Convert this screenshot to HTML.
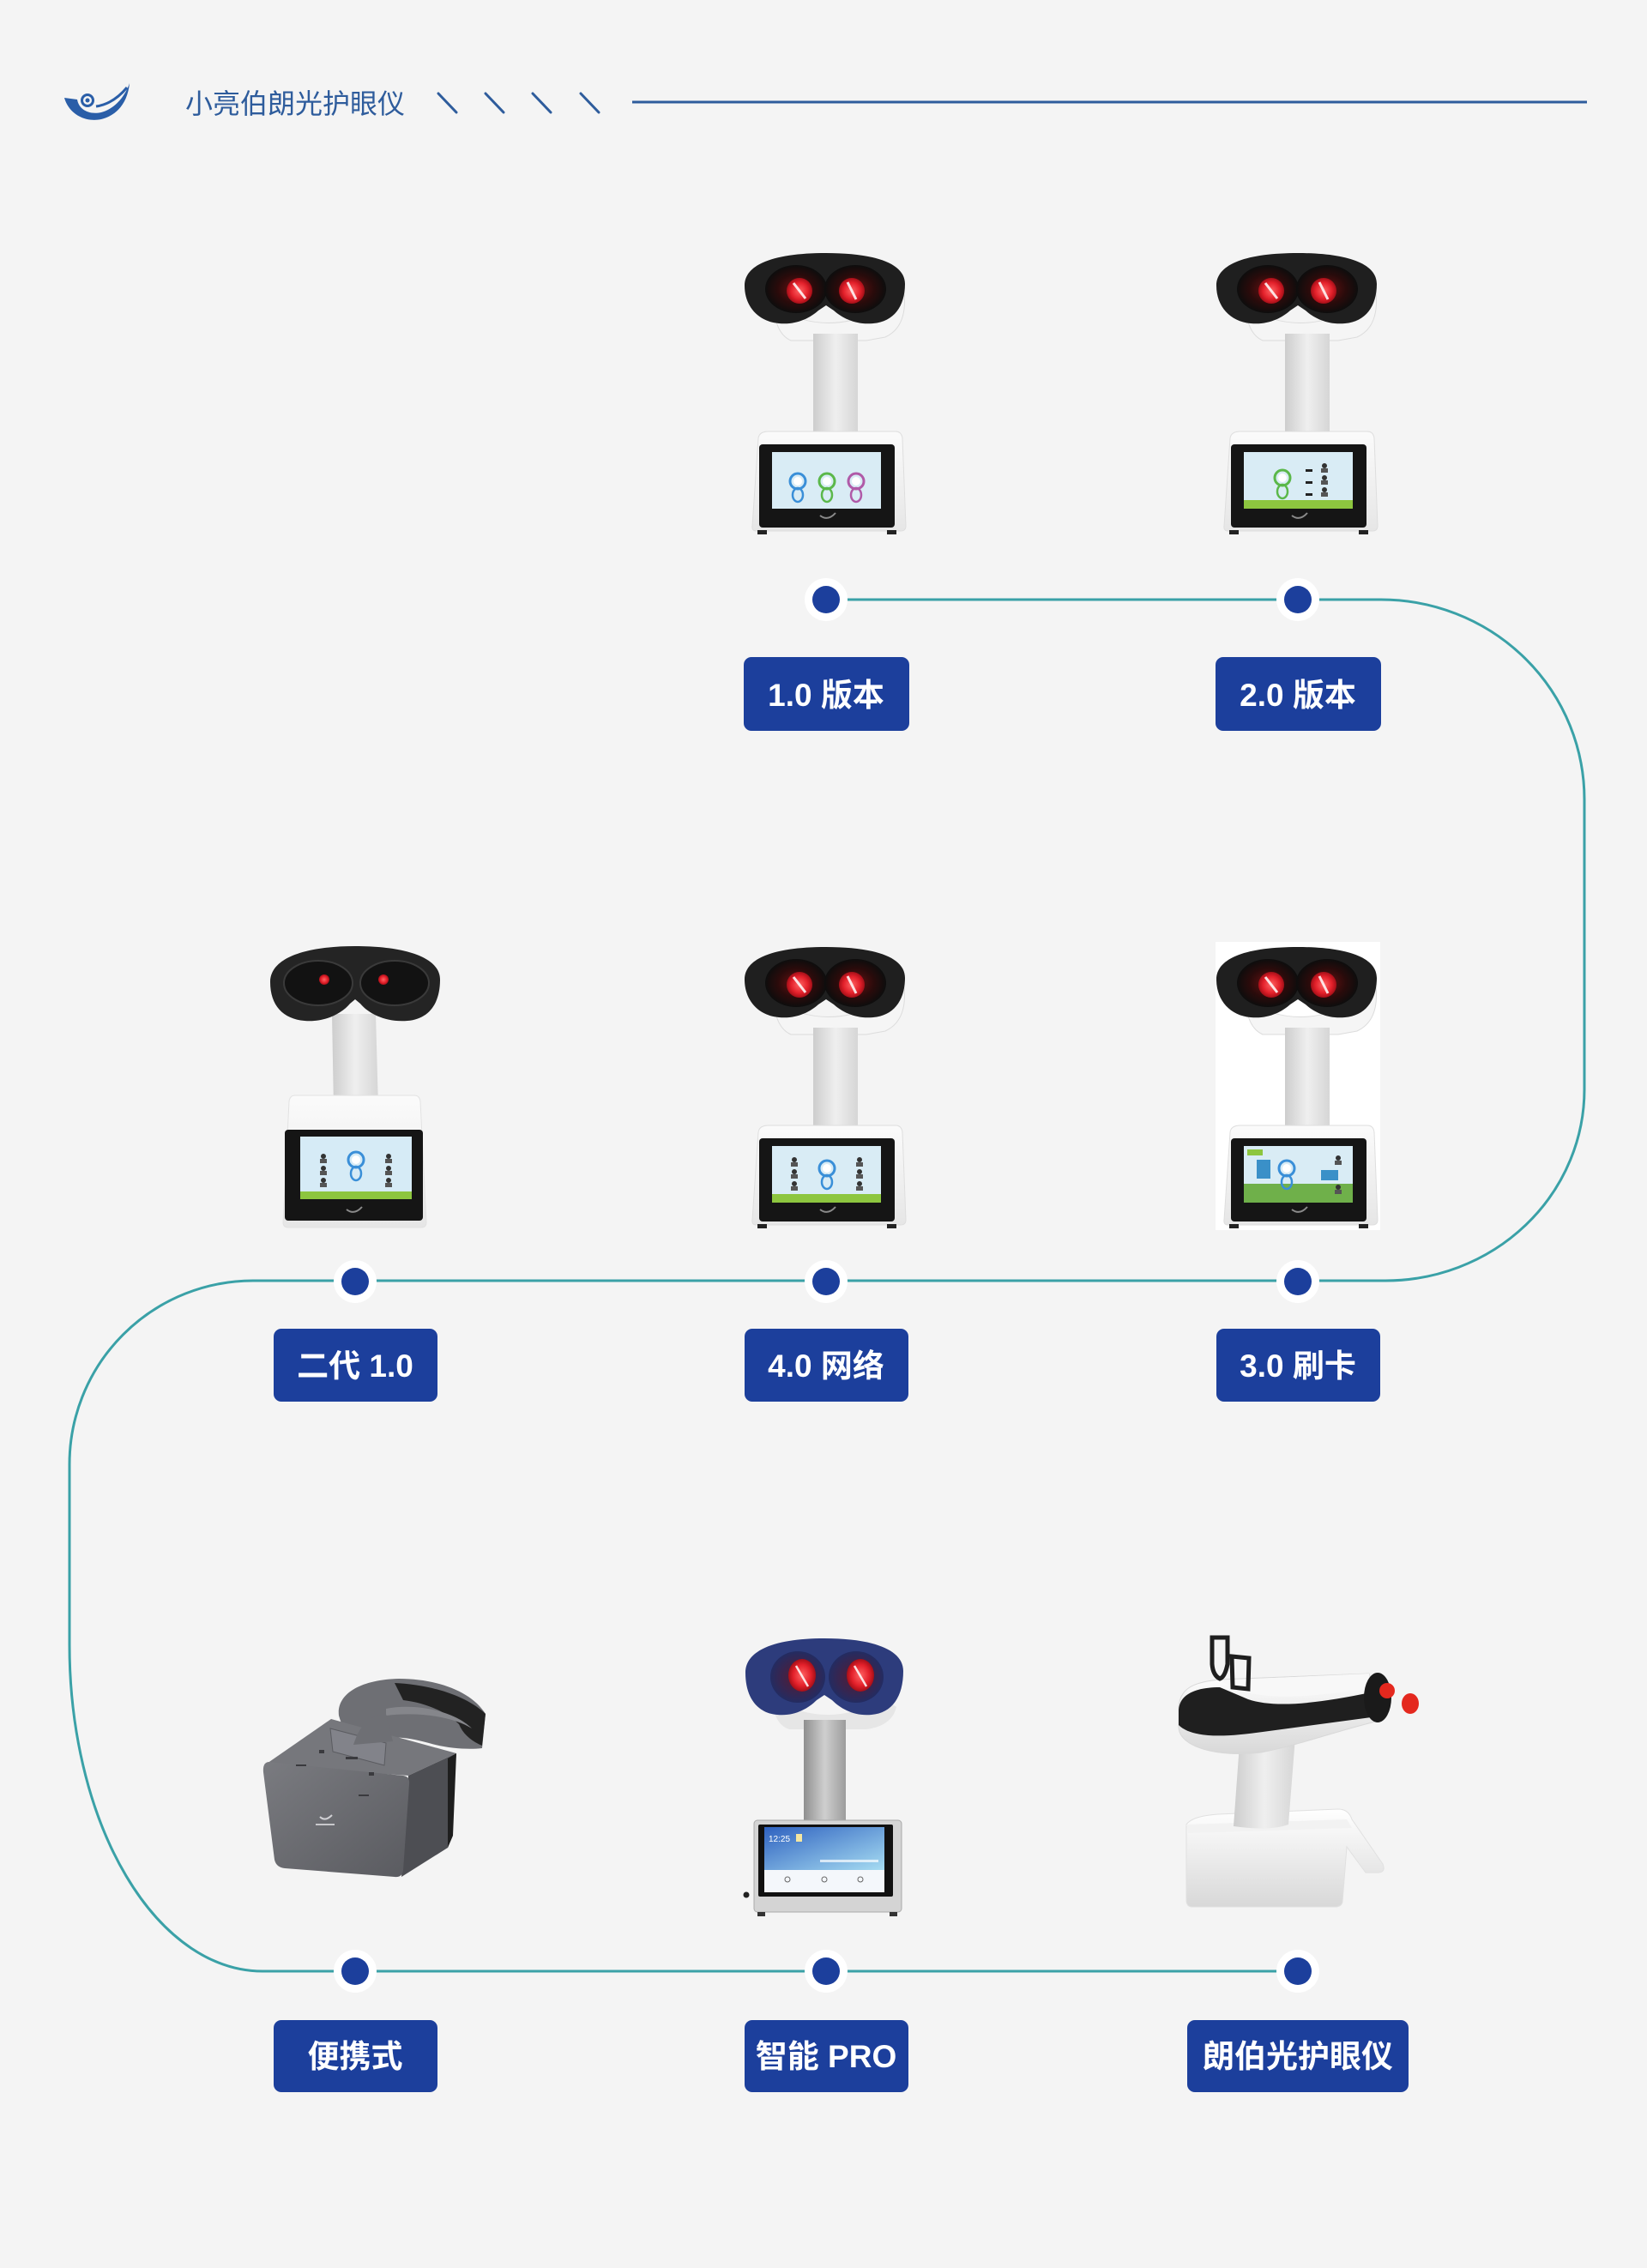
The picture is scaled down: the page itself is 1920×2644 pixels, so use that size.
<!DOCTYPE html>
<html><head><meta charset="utf-8">
<style>
html,body{margin:0;padding:0;background:#f4f4f4;}
body{width:1920px;height:2644px;overflow:hidden;}
svg{display:block;}
</style></head>
<body>
<svg width="1920" height="2644" viewBox="0 0 1920 2644" xmlns="http://www.w3.org/2000/svg">
<defs>
<linearGradient id="stemG" x1="0" x2="1" y1="0" y2="0"><stop offset="0" stop-color="#cdcdcd"/><stop offset=".5" stop-color="#efefef"/><stop offset="1" stop-color="#d6d6d6"/></linearGradient>
<linearGradient id="stemG2" x1="0" x2="1" y1="0" y2="0"><stop offset="0" stop-color="#8f8f8f"/><stop offset=".5" stop-color="#cfcfcf"/><stop offset="1" stop-color="#9c9c9c"/></linearGradient>
<linearGradient id="baseG" x1="0" y1="0" x2="0" y2="1"><stop offset="0" stop-color="#fbfbfb"/><stop offset="1" stop-color="#e6e6e6"/></linearGradient>
<radialGradient id="redG"><stop offset="0" stop-color="#ff6464"/><stop offset=".65" stop-color="#e3202a"/><stop offset="1" stop-color="#a50f18"/></radialGradient>
<radialGradient id="cupG"><stop offset="0" stop-color="#6a1212"/><stop offset=".6" stop-color="#2a0b0b"/><stop offset="1" stop-color="#0d0d0d"/></radialGradient>
<radialGradient id="cupB"><stop offset="0" stop-color="#5a1a30"/><stop offset="1" stop-color="#232c62"/></radialGradient>
<linearGradient id="proScr" x1="0" y1="0" x2="1" y2="1"><stop offset="0" stop-color="#2f62c0"/><stop offset="1" stop-color="#a6dcf2"/></linearGradient>
<linearGradient id="vrFront" x1="0" y1="0" x2="1" y2="1"><stop offset="0" stop-color="#7a7b80"/><stop offset="1" stop-color="#5a5b60"/></linearGradient>
<linearGradient id="lbBody" x1="0" y1="0" x2="0" y2="1"><stop offset="0" stop-color="#ffffff"/><stop offset="1" stop-color="#d8d8d8"/></linearGradient>

<g id="desk">
  <path d="M42,72 Q105,112 178,70 L194,56 Q198,96 172,108 L150,112 L62,112 Q44,104 42,72Z" fill="#f5f5f5" stroke="#dcdcdc" stroke-width="1"/>
  <rect x="88" y="104" width="52" height="118" fill="url(#stemG)"/>
  <path d="M36,218 L184,218 Q191,218 192,226 L196,328 Q196,334 190,334 L22,334 Q16,334 17,328 L24,226 Q25,218 36,218Z" fill="url(#baseG)" stroke="#dedede"/>
  <rect x="25" y="233" width="158" height="97" rx="4" fill="#151515"/>
  <rect x="40" y="242" width="127" height="66" fill="#d9ecf5"/>
  <path d="M96,316 q9,7 18,-3" stroke="#8a8a8a" stroke-width="2" fill="none"/>
  <rect x="23" y="333" width="11" height="5" fill="#222"/>
  <rect x="174" y="333" width="11" height="5" fill="#222"/>
  <path d="M8,48 C8,22 45,10 103,10 C160,10 195,22 195,46 C195,72 182,90 158,92 C138,94 122,86 112,77 L103,71 L94,77 C84,86 68,94 48,92 C24,90 8,72 8,48Z" fill="#1f1f1f"/>
  <ellipse cx="68" cy="52" rx="36" ry="28" fill="url(#cupG)"/>
  <ellipse cx="137" cy="52" rx="36" ry="28" fill="url(#cupG)"/>
  <circle cx="72" cy="54" r="15" fill="url(#redG)"/>
  <circle cx="133" cy="54" r="15" fill="url(#redG)"/>
  <line x1="65" y1="45" x2="79" y2="63" stroke="#fff" stroke-width="3" opacity=".85"/>
  <line x1="128" y1="44" x2="138" y2="64" stroke="#fff" stroke-width="3" opacity=".85"/>
</g>

<g id="fig">
  <circle cx="0" cy="0" r="9" fill="none" stroke="currentColor" stroke-width="3"/>
  <circle cx="0" cy="0" r="5" fill="#fff"/>
  <ellipse cx="0" cy="16" rx="6" ry="8" fill="none" stroke="currentColor" stroke-width="2.5"/>
</g>
<g id="mini">
  <circle cx="0" cy="0" r="3" fill="#333"/>
  <rect x="-4" y="3" width="8" height="5" fill="#555"/>
</g>
</defs>

<!-- Header -->
<g>
  <path d="M75,114 L90,116 C92,128 104,134 118,131 C133,127 145,114 151,97 C149,118 138,134 118,139 C98,143 80,132 75,114Z" fill="#2a5ea8"/>
  <circle cx="102" cy="117" r="6.5" fill="none" stroke="#2a5ea8" stroke-width="3"/>
  <circle cx="102" cy="117" r="2.5" fill="#2a5ea8"/>
  <path d="M112,124 C126,122 138,114 148,102" stroke="#2a5ea8" stroke-width="3" fill="none"/>
  <text x="216" y="132" font-family="Liberation Sans, 'Noto Sans CJK SC', sans-serif" font-size="32" fill="#2e5c9c">小亮伯朗光护眼仪</text>
  <g stroke="#2e5c9c" stroke-width="3" stroke-linecap="round">
    <line x1="511" y1="109" x2="532" y2="131"/>
    <line x1="566" y1="109" x2="587" y2="131"/>
    <line x1="621" y1="109" x2="642" y2="131"/>
    <line x1="677" y1="109" x2="698" y2="131"/>
  </g>
  <line x1="737" y1="119" x2="1850" y2="119" stroke="#2e5c9c" stroke-width="3"/>
</g>

<!-- Timeline path -->
<path d="M963,699 H1610 A237,233 0 0 1 1847,932 V1270 A232,223 0 0 1 1615,1493 H295 A214,214 0 0 0 81,1707 V1918 A225,380 0 0 0 306,2298 H1513"
  fill="none" stroke="#3aa1a7" stroke-width="3"/>

<!-- Dots -->
<g fill="#fff">
  <circle cx="963" cy="699" r="25"/><circle cx="1513" cy="699" r="25"/>
  <circle cx="414" cy="1494" r="25"/><circle cx="963" cy="1494" r="25"/><circle cx="1513" cy="1494" r="25"/>
  <circle cx="414" cy="2298" r="25"/><circle cx="963" cy="2298" r="25"/><circle cx="1513" cy="2298" r="25"/>
</g>
<g fill="#1c3f9c">
  <circle cx="963" cy="699" r="16"/><circle cx="1513" cy="699" r="16"/>
  <circle cx="414" cy="1494" r="16"/><circle cx="963" cy="1494" r="16"/><circle cx="1513" cy="1494" r="16"/>
  <circle cx="414" cy="2298" r="16"/><circle cx="963" cy="2298" r="16"/><circle cx="1513" cy="2298" r="16"/>
</g>

<!-- Labels -->
<g fill="#1c3f9c">
  <rect x="867" y="766" width="193" height="86" rx="9"/>
  <rect x="1417" y="766" width="193" height="86" rx="9"/>
  <rect x="319" y="1549" width="191" height="85" rx="9"/>
  <rect x="868" y="1549" width="191" height="85" rx="9"/>
  <rect x="1418" y="1549" width="191" height="85" rx="9"/>
  <rect x="319" y="2355" width="191" height="84" rx="9"/>
  <rect x="868" y="2355" width="191" height="84" rx="9"/>
  <rect x="1384" y="2355" width="258" height="84" rx="9"/>
</g>
<g font-family="Liberation Sans, 'Noto Sans CJK SC', sans-serif" font-weight="700" font-size="37" fill="#fff" text-anchor="middle">
  <text x="963" y="823">1.0 版本</text>
  <text x="1513" y="823">2.0 版本</text>
  <text x="414" y="1605">二代 1.0</text>
  <text x="963" y="1605">4.0 网络</text>
  <text x="1513" y="1605">3.0 刷卡</text>
  <text x="414" y="2410">便携式</text>
  <text x="963" y="2410">智能 PRO</text>
  <text x="1513" y="2410">朗伯光护眼仪</text>
</g>

<!-- Row 1: 1.0 -->
<g transform="translate(860,285)">
  <use href="#desk"/>
  <use href="#fig" x="70" y="276" style="color:#3a8fd8"/>
  <use href="#fig" x="104" y="276" style="color:#5bb84a"/>
  <use href="#fig" x="138" y="276" style="color:#b05aa8"/>
</g>
<!-- Row 1: 2.0 -->
<g transform="translate(1410,285)">
  <use href="#desk"/>
  <rect x="40" y="298" width="127" height="10" fill="#8dc63f"/>
  <use href="#fig" x="85" y="272" style="color:#5bb84a"/>
  <rect x="112" y="262" width="8" height="3" fill="#222"/><rect x="112" y="276" width="8" height="3" fill="#222"/><rect x="112" y="290" width="8" height="3" fill="#222"/>
  <use href="#mini" x="134" y="258"/><use href="#mini" x="134" y="272"/><use href="#mini" x="134" y="286"/>
</g>

<!-- Row 2: 二代 1.0 -->
<g transform="translate(300,1090)">
  <path d="M87,92 L138,92 L141,202 L89,202Z" fill="url(#stemG)"/>
  <path d="M44,187 L183,187 Q189,187 190,194 L197,335 Q197,341 191,341 L36,341 Q30,341 30,335 L37,194 Q38,187 44,187Z" fill="url(#baseG)" stroke="#e2e2e2"/>
  <rect x="32" y="227" width="161" height="106" rx="4" fill="#151515"/>
  <rect x="50" y="235" width="130" height="73" fill="#d6ebf6"/>
  <rect x="50" y="299" width="130" height="9" fill="#8dc63f"/>
  <use href="#fig" x="115" y="262" style="color:#3a8fd8"/>
  <use href="#mini" x="77" y="258"/><use href="#mini" x="77" y="272"/><use href="#mini" x="77" y="286"/>
  <use href="#mini" x="153" y="258"/><use href="#mini" x="153" y="272"/><use href="#mini" x="153" y="286"/>
  <path d="M104,320 q9,7 18,-3" stroke="#8a8a8a" stroke-width="2" fill="none"/>
  <path d="M15,55 C15,25 60,13 114,13 C170,13 213,25 213,52 C213,80 200,98 175,100 C150,102 130,92 120,80 L114,75 L108,80 C98,92 78,102 55,100 C30,98 15,82 15,55Z" fill="#242424"/>
  <ellipse cx="71" cy="56" rx="40" ry="26" fill="#121212" stroke="#3a3a3a" stroke-width="2"/>
  <ellipse cx="160" cy="56" rx="40" ry="26" fill="#121212" stroke="#3a3a3a" stroke-width="2"/>
  <circle cx="78" cy="52" r="6" fill="url(#redG)"/>
  <circle cx="147" cy="52" r="6" fill="url(#redG)"/>
</g>

<!-- Row 2: 4.0 -->
<g transform="translate(860,1094)">
  <use href="#desk"/>
  <rect x="40" y="298" width="127" height="10" fill="#8dc63f"/>
  <use href="#fig" x="104" y="268" style="color:#3a8fd8"/>
  <use href="#mini" x="66" y="258"/><use href="#mini" x="66" y="272"/><use href="#mini" x="66" y="286"/>
  <use href="#mini" x="142" y="258"/><use href="#mini" x="142" y="272"/><use href="#mini" x="142" y="286"/>
</g>

<!-- Row 2: 3.0 -->
<rect x="1417" y="1098" width="192" height="336" fill="#ffffff"/>
<g transform="translate(1410,1094)">
  <use href="#desk"/>
  <rect x="40" y="286" width="127" height="22" fill="#6fb04a"/>
  <rect x="44" y="246" width="18" height="7" fill="#8dc63f"/>
  <use href="#fig" x="90" y="268" style="color:#3a8fd8"/>
  <rect x="55" y="258" width="16" height="22" fill="#3a90c8"/>
  <rect x="130" y="270" width="20" height="12" fill="#3a90c8"/>
  <use href="#mini" x="150" y="256"/><use href="#mini" x="150" y="290"/>
</g>

<!-- Row 3: Portable -->
<g transform="translate(300,1940)">
  <path d="M95,60 C92,35 120,18 165,17 C210,17 250,32 266,58 L262,98 C245,100 220,98 200,92 C170,84 150,82 140,95 L120,100 C110,90 100,78 95,60Z" fill="#6e6f74"/>
  <path d="M160,22 C205,24 245,38 266,58 L262,95 C250,90 240,82 235,70 C220,55 195,45 170,42Z" fill="#222"/>
  <path d="M150,52 C185,45 230,55 250,75 C230,62 190,55 150,60Z" fill="#85868b"/>
  <path d="M8,118 L86,64 L232,104 L176,130Z" fill="#76777c"/>
  <path d="M176,130 L232,104 L228,150 L222,214 L168,248Z" fill="#4d4e53"/>
  <path d="M222,110 L232,104 L228,200 L222,214Z" fill="#1e1e1e"/>
  <path d="M14,114 L170,130 Q178,131 177,140 L170,240 Q169,249 160,248 L32,238 Q22,237 20,228 L7,126 Q6,114 14,114Z" fill="url(#vrFront)"/>
  <path d="M85,75 L150,92 L148,118 L88,102Z" fill="#82838a" stroke="#5a5b60" stroke-width="1"/>
  <path d="M112,94 C120,70 130,60 150,58 L158,90Z" fill="#6e6f74"/>
  <g fill="#3a3a3e">
    <rect x="72" y="100" width="6" height="4"/><rect x="103" y="108" width="14" height="3"/><rect x="130" y="126" width="6" height="4"/>
    <rect x="45" y="117" width="12" height="2"/><rect x="118" y="152" width="12" height="2"/>
  </g>
  <path d="M73,178 q6,6 14,-2" stroke="#d0d0d4" stroke-width="2" fill="none"/>
  <rect x="68" y="186" width="22" height="2" fill="#c8c8cc"/>
</g>

<!-- Row 3: Smart PRO -->
<g transform="translate(860,1900)">
  <path d="M40,80 Q105,118 170,80 L185,90 Q180,112 150,116 L60,116 Q42,110 40,80Z" fill="#e6e6e6"/>
  <rect x="77" y="105" width="49" height="120" fill="url(#stemG2)"/>
  <rect x="19" y="222" width="172" height="107" rx="4" fill="#d4d4d4" stroke="#aaaaaa"/>
  <rect x="24" y="227" width="157" height="84" rx="2" fill="#111"/>
  <rect x="31" y="230" width="140" height="50" fill="url(#proScr)"/>
  <rect x="31" y="280" width="140" height="26" fill="#f4f7fb"/>
  <text x="36" y="247" font-family="Liberation Sans, sans-serif" font-size="10" fill="#fff">12:25</text>
  <rect x="68" y="238" width="7" height="9" fill="#f5e6a0"/>
  <rect x="96" y="268" width="68" height="3" fill="#ffffff" opacity=".7"/>
  <circle cx="58" cy="291" r="3" fill="none" stroke="#666" stroke-width="1"/>
  <circle cx="101" cy="291" r="3" fill="none" stroke="#666" stroke-width="1"/>
  <circle cx="143" cy="291" r="3" fill="none" stroke="#666" stroke-width="1"/>
  <rect x="23" y="329" width="9" height="5" fill="#333"/><rect x="177" y="329" width="9" height="5" fill="#333"/>
  <circle cx="10" cy="309" r="3.5" fill="#222"/>
  <path d="M9,50 C9,22 48,10 101,10 C155,10 193,22 193,48 C193,78 180,97 156,99 C136,101 120,92 110,82 L101,76 L92,82 C82,92 66,101 46,99 C22,97 9,78 9,50Z" fill="#2d3c7c"/>
  <ellipse cx="70" cy="55" rx="32" ry="30" fill="url(#cupB)"/>
  <ellipse cx="138" cy="55" rx="32" ry="30" fill="url(#cupB)"/>
  <ellipse cx="75" cy="53" rx="16" ry="19" fill="url(#redG)"/>
  <ellipse cx="143" cy="53" rx="16" ry="19" fill="url(#redG)"/>
  <line x1="68" y1="42" x2="82" y2="66" stroke="#fff" stroke-width="2.5" opacity=".85"/>
  <line x1="136" y1="42" x2="150" y2="66" stroke="#fff" stroke-width="2.5" opacity=".85"/>
</g>

<!-- Row 3: Langbo -->
<g transform="translate(1360,1895)">
  <path d="M23,232 Q30,222 60,220 L200,214 Q212,214 216,226 L252,278 Q256,288 246,288 L232,288 L210,258 L205,322 Q204,328 196,328 L30,328 Q23,328 23,320Z" fill="url(#lbBody)" stroke="#e0e0e0"/>
  <path d="M23,232 L210,226 L216,236 L25,242Z" fill="#f2f2f2"/>
  <path d="M85,138 L150,130 L142,232 Q120,240 78,234Z" fill="url(#stemG)"/>
  <path d="M14,98 C14,74 30,66 62,63 L236,56 L252,110 C200,122 160,138 110,148 C60,154 14,142 14,118Z" fill="url(#lbBody)" stroke="#d8d8d8"/>
  <path d="M14,100 C14,80 34,72 62,72 L95,86 C125,96 170,92 238,78 L246,106 L112,124 C70,130 30,132 14,116Z" fill="#1f1f1f"/>
  <path d="M60,64 L236,56 L238,72 C170,84 125,86 95,78Z" fill="#f8f8f8"/>
  <ellipse cx="246" cy="84" rx="16" ry="29" fill="#1a1a1a"/>
  <circle cx="257" cy="76" r="9" fill="#e4281e"/>
  <ellipse cx="284" cy="91" rx="10" ry="12" fill="#e4281e"/>
  <g fill="none" stroke="#1e1e1e" stroke-width="5">
    <path d="M53,14 L71,14 L71,45 Q68,60 62,62 Q54,58 53,45Z"/>
    <path d="M76,36 L96,38 L95,74 L77,72Z"/>
  </g>
</g>

</svg>
</body></html>
